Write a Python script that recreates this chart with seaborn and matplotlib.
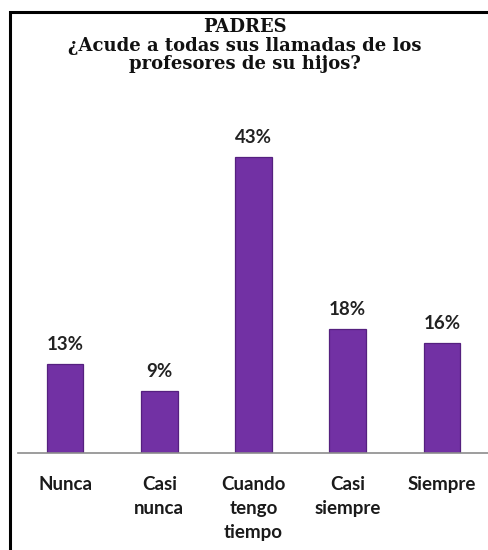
import pandas as pd
import numpy as np
import matplotlib.pyplot as plt
import matplotlib.patches as patches
import seaborn as sns

categorias = ['Nunca', 'Casi\nnunca', 'Cuando\ntengo\ntiempo', 'Casi\nsiempre', 'Siempre']
porcentajes = [13, 9, 43, 18, 16]
etiquetas = ['13%', '9%', '43%', '18%', '16%']
titulo = 'PADRES\n¿Acude a todas sus llamadas de los\nprofesores de su hijos?'

df = pd.DataFrame({'categoria': categorias, 'pct': porcentajes})

sns.set_style('white')
plt.rcParams['font.family'] = ['Lato', 'DejaVu Sans']

fig = plt.figure(figsize=(4.89, 5.5), dpi=100)
ax = fig.add_axes([18 / 489, 1 - 453 / 550, 471 / 489, 344 / 550])

sns.barplot(data=df, x='categoria', y='pct', color='#7231a4', width=0.39,
            saturation=1, ax=ax, edgecolor='#55207f', linewidth=0.9)

# etiquetas de datos
for i, (v, t) in enumerate(zip(porcentajes, etiquetas)):
    ax.text(i, v + 1.6, t, ha='center', va='bottom', fontsize=13.5,
            fontweight='bold', color='#222222')

ax.set_ylim(0, 50)
ax.set_xlim(-0.5, 4.46)
ax.set_xlabel('')
ax.set_ylabel('')
ax.set_yticks([])
for s in ['top', 'right', 'left']:
    ax.spines[s].set_visible(False)
ax.spines['bottom'].set_color('#8c8c8c')
ax.spines['bottom'].set_linewidth(1.2)

ax.set_xticks(range(len(categorias)))
ax.set_xticklabels(categorias, fontsize=13.5, fontweight='bold', color='#1a1a1a',
                   linespacing=1.5)
ax.tick_params(axis='x', which='major', length=0, pad=16.5)
ax.set_xticks(np.arange(-0.5, 4.6, 1), minor=True)
ax.tick_params(axis='x', which='minor', length=6, width=1.2, color='#8c8c8c')

fig.text(0.5, 1 - 18 / 550, titulo, ha='center', va='top', fontsize=13,
         fontweight='bold', family=['DejaVu Serif'],
         linespacing=1.05, color='#111111')

# marco del grafico
marco = patches.Rectangle((10 / 489, -0.05), 1.0, 1 - 12 / 550 + 0.05,
                          transform=fig.transFigure, fill=False,
                          edgecolor='black', linewidth=2.2)
fig.patches.append(marco)

plt.savefig('out.png', dpi=100)
plt.close()
